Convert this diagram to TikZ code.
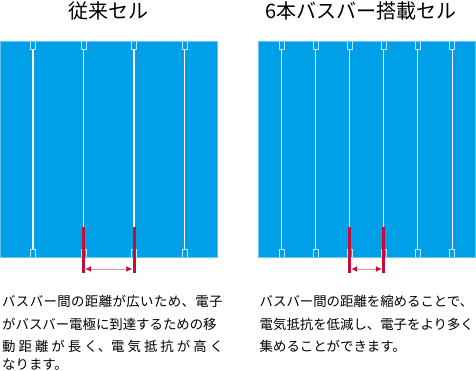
\documentclass[tikz,border=0pt]{standalone}
\usepackage{fontspec}
\setmainfont{Noto Sans CJK JP}
\usetikzlibrary{arrows.meta,calc,positioning}
\definecolor{cellblue}{RGB}{0,160,233}
\definecolor{markred}{RGB}{198,12,58}
\tikzset{
  cell/.style={
    rectangle,
    anchor=north west,
    minimum width=217pt,
    minimum height=216pt,
    inner sep=0pt,
    fill=cellblue,
    draw=cellblue!60!white,
    line width=0.4pt
    },
  title/.style={
    font=\fontsize{20}{24}\selectfont,
    inner sep=0pt
    },
  note/.style={
    anchor=north west,
    align=left,
    inner sep=0pt,
    font=\fontsize{13.4}{22.7}\selectfont
    },
  bar/.style={white,line width=1.3pt},
  pad/.style={draw=cellblue!25!white,line width=0.7pt},
  marker/.style={
    rectangle,
    fill=markred,
    minimum width=3pt,
    minimum height=46pt,
    inner sep=0pt
    },
  gap/.style={draw=markred!45!white,line width=1pt,
    {Latex[length=6pt,width=6pt,color=markred]}-{Latex[length=6pt,width=6pt,color=markred]}},
}

\begin{document}
\begin{tikzpicture}[x=1pt,y=-1pt]
  \useasboundingbox (0,0) rectangle (476,371);

  % cells
  \node[cell] (cellA) at (0,41) {};
  \node[cell] (cellB) at (258,41) {};

  \node[title] (titleA) at (108,11) {従来セル};
  \node[title] (titleB) at (361,11) {6本バスバー搭載セル};

  % busbars
  \foreach \cl/\offs in {cellA/{33,83.5,134,184.5},cellB/{23.5,57.5,91.5,125.5,159.8,194.2}} {
    \foreach \o in \offs {
      \draw[bar] ($(\cl.north west)+(\o,8)$) -- ($(\cl.south west)+(\o,-8)$);
      \draw[pad] ($(\cl.north west)+(\o-2.4,0)$) -- ++(0,8) -- ++(4.8,0) -- ++(0,-8);
      \draw[pad] ($(\cl.south west)+(\o-2.4,0)$) -- ++(0,-8) -- ++(4.8,0) -- ++(0,8);
    }
  }

  % distance between busbars
  \node[marker] (mA1) at (83.5,250) {};
  \node[marker] (mA2) at (134,250) {};
  \node[marker] (mB1) at (349.5,250) {};
  \node[marker] (mB2) at (383.5,250) {};
  \draw[gap] ([yshift=-19pt]mA1.east) -- ([yshift=-19pt]mA2.west);
  \draw[gap] ([yshift=-19pt]mB1.east) -- ([yshift=-19pt]mB2.west);

  \node[note] (noteA) at (2,295) {\addfontfeature{LetterSpace=3}バスバー間の距離が広いため、電子\\
    がバスバー電極に到達するための移\\
    \makebox[221pt][s]{動\hfil 距\hfil 離\hfil が\hfil 長\hfil く、電\hfil 気\hfil 抵\hfil 抗\hfil が\hfil 高\hfil く}\\[-5pt]
    なります。};
  \node[note] (noteB) at (259.5,295) {バスバー間の距離を縮めることで、\\
    電気抵抗を低減し、電子をより多く\\
    集めることができます。};
\end{tikzpicture}
\end{document}
